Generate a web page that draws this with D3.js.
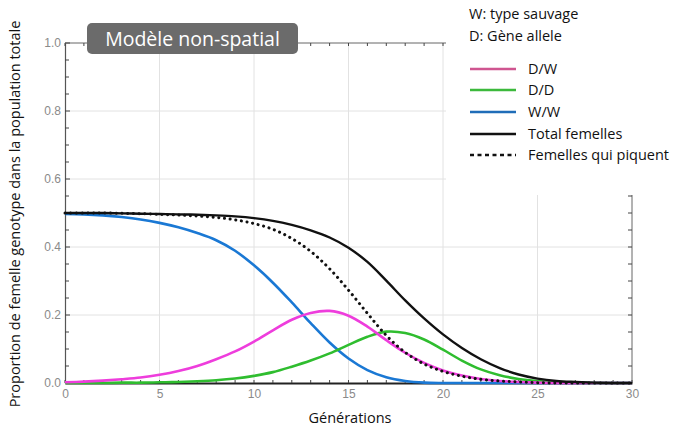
<!DOCTYPE html>
<html>
<head>
<meta charset="utf-8">
<script src="https://cdn.jsdelivr.net/npm/d3@7"></script>
<style>
  html, body { margin: 0; padding: 0; background: #fff; }
  svg { display: block; }
</style>
</head>
<body>
<svg id="chart" width="678" height="428"></svg>
<script>
// ---- data ----
const generations = d3.range(0, 31);
const seriesWW = [0.497,0.496,0.493,0.488,0.481,0.471,0.458,0.441,0.42,0.389,0.346,0.295,0.237,0.176,0.119,0.072,0.038,0.017,0.006,0.001,0,0,0,0,0,0,0,0,0,0,0];
const seriesDW = [0.002,0.004,0.007,0.011,0.016,0.024,0.035,0.05,0.07,0.093,0.122,0.155,0.186,0.206,0.212,0.198,0.166,0.126,0.089,0.059,0.037,0.022,0.012,0.006,0.003,0.001,0,0,0,0,0];
const seriesDD = [0,0,0,0.001,0.001,0.002,0.003,0.005,0.008,0.013,0.021,0.032,0.048,0.066,0.087,0.112,0.136,0.151,0.147,0.128,0.098,0.066,0.04,0.023,0.012,0.006,0.003,0.001,0,0,0];
const seriesTotal = [0.5,0.5,0.5,0.499,0.498,0.497,0.496,0.495,0.493,0.49,0.485,0.477,0.465,0.449,0.428,0.398,0.356,0.301,0.243,0.19,0.143,0.103,0.07,0.044,0.025,0.013,0.006,0.003,0.001,0,0];
const seriesBiting = [0.5,0.5,0.5,0.499,0.498,0.496,0.494,0.491,0.487,0.48,0.469,0.452,0.425,0.387,0.336,0.273,0.205,0.14,0.09,0.056,0.034,0.02,0.011,0.006,0.003,0.001,0,0,0,0,0];
const xTickLabels = [0, 5, 10, 15, 20, 25, 30];
const yTickLabels = [0.0, 0.2, 0.4, 0.6, 0.8, 1.0];
const legendNotes = ["W: type sauvage", "D: Gène allele"];
const legendNames = ["D/W", "D/D", "W/W", "Total femelles", "Femelles qui piquent"];
const title = "Modèle non-spatial";
const xTitle = "Générations";
const yTitle = "Proportion de femelle genotype dans la population totale";

// ---- layout ----
const svg = d3.select("#chart");
const L = 65, R = 632, T = 43, B = 383;
const x = d3.scaleLinear().domain([0, 30]).range([L, R]);
const y = d3.scaleLinear().domain([0, 1]).range([B, T]);
const font = "'Open Sans', 'Noto Sans', sans-serif";

// grid
const grid = svg.append("g");
grid.selectAll("line.v").data(xTickLabels.slice(1, -1)).join("line")
  .attr("x1", d => x(d)).attr("x2", d => x(d)).attr("y1", T).attr("y2", B)
  .attr("stroke", "#e2e2e2").attr("stroke-width", 1);
grid.selectAll("line.h").data(yTickLabels.slice(1, -1)).join("line")
  .attr("x1", L).attr("x2", R).attr("y1", d => y(d)).attr("y2", d => y(d))
  .attr("stroke", "#e2e2e2").attr("stroke-width", 1);

// frame lines
svg.append("line").attr("x1", L).attr("x2", R).attr("y1", T).attr("y2", T).attr("stroke", "#666").attr("stroke-width", 1);
svg.append("line").attr("x1", R).attr("x2", R).attr("y1", T).attr("y2", B).attr("stroke", "#666").attr("stroke-width", 1);

// axes
const minorY = d3.range(0, 1.0001, 0.05);
const minorX = d3.range(0, 31, 1);
const axLeft = d3.axisLeft(y).tickValues(yTickLabels).tickFormat(d3.format(".1f")).tickSize(0).tickPadding(4);
const gl = svg.append("g").attr("transform", `translate(${L},0)`).call(axLeft);
gl.select(".domain").attr("stroke", "#555").attr("stroke-width", 1.2);
gl.selectAll("text").attr("fill", "#8a8a8a").attr("font-size", 12).attr("font-family", "'Liberation Sans', Arial, sans-serif");

const axBottom = d3.axisBottom(x).tickValues(xTickLabels).tickFormat(d3.format("d")).tickSize(0).tickPadding(6);
const gb = svg.append("g").attr("transform", `translate(0,${B})`).call(axBottom);
gb.select(".domain").attr("stroke", "#222").attr("stroke-width", 1.8);
gb.selectAll("text").attr("fill", "#8a8a8a").attr("font-size", 12).attr("font-family", "'Liberation Sans', Arial, sans-serif");

// minor ticks
const ticks = svg.append("g").attr("stroke", "#444").attr("stroke-width", 1);
ticks.selectAll("line.l").data(minorY).join("line")
  .attr("x1", L).attr("x2", d => L + (Math.round(d * 100) % 20 === 0 ? 5 : 4)).attr("y1", d => y(d)).attr("y2", d => y(d));
ticks.selectAll("line.r").data(minorY).join("line")
  .attr("x1", R).attr("x2", R - 4).attr("y1", d => y(d)).attr("y2", d => y(d));
ticks.selectAll("line.b").data(minorX).join("line")
  .attr("x1", d => x(d)).attr("x2", d => x(d)).attr("y1", B).attr("y2", B - 3);
ticks.selectAll("line.t").data(minorX).join("line")
  .attr("x1", d => x(d)).attr("x2", d => x(d)).attr("y1", T).attr("y2", T + 3);

// curves
const line = d3.line().x((d, i) => x(generations[i])).y(d => y(Math.max(0, d))).curve(d3.curveCatmullRom.alpha(0.5));
const curves = [
  { data: seriesWW, color: "#1a78d4", width: 2.6, dash: null },
  { data: seriesDD, color: "#2fbd2f", width: 2.6, dash: null },
  { data: seriesDW, color: "#ee3ddc", width: 2.6, dash: null },
  { data: seriesTotal, color: "#111", width: 2.4, dash: null },
  { data: seriesBiting, color: "#111", width: 3, dash: "0.1 5.6" }
];
curves.forEach(c => {
  const p = svg.append("path").attr("d", line(c.data)).attr("fill", "none")
    .attr("stroke", c.color).attr("stroke-width", c.width);
  if (c.dash) p.attr("stroke-dasharray", c.dash).attr("stroke-linecap", "round");
});

// legend panel (covers top-right of frame)
svg.append("rect").attr("x", 446).attr("y", 0).attr("width", 232).attr("height", 195).attr("fill", "#fff");
const lg = svg.append("g").attr("font-family", font).attr("font-size", 14.5).attr("fill", "#111");
lg.selectAll("text.note").data(legendNotes).join("text")
  .attr("x", 469).attr("y", (d, i) => 19 + i * 22).text(d => d);
const legendColors = ["#cf5590", "#3cb93c", "#1f6db8", "#111", "#111"];
const legendY = [69, 90, 112, 134, 155];
legendNames.forEach((name, i) => {
  const ln = lg.append("line").attr("x1", 470).attr("x2", 516).attr("y1", legendY[i]).attr("y2", legendY[i])
    .attr("stroke", legendColors[i]).attr("stroke-width", 2.6);
  if (i === 4) ln.attr("stroke-dasharray", "4 3.5");
  lg.append("text").attr("x", 528).attr("y", legendY[i] + 5).text(name);
});

// title box
svg.append("rect").attr("x", 87).attr("y", 23).attr("width", 211).attr("height", 31).attr("rx", 5)
  .attr("fill", "#6b6b6b");
svg.append("text").attr("x", 192.5).attr("y", 45.5).attr("text-anchor", "middle")
  .attr("font-family", font).attr("font-size", 19.5).attr("fill", "#fff").text(title);

// axis titles
svg.append("text").attr("x", 350).attr("y", 423).attr("text-anchor", "middle")
  .attr("font-family", font).attr("font-size", 14.5).attr("fill", "#111").text(xTitle);
svg.append("text").attr("transform", "translate(20,214) rotate(-90)").attr("text-anchor", "middle")
  .attr("font-family", font).attr("font-size", 14.5).attr("fill", "#111").text(yTitle);
</script>
</body>
</html>
